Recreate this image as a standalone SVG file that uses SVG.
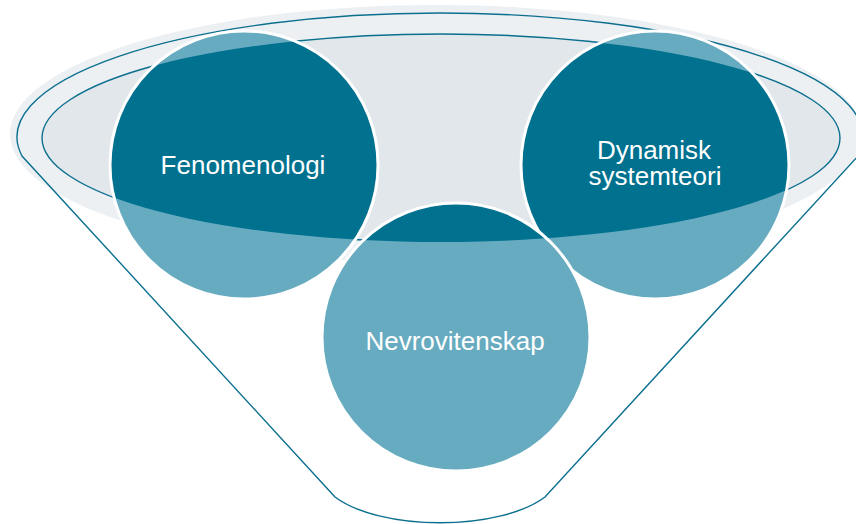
<svg xmlns="http://www.w3.org/2000/svg" width="856" height="524" viewBox="0 0 856 524">
<style>
.lbl{font-family:"Liberation Sans",Arial,sans-serif;font-size:26px;fill:#FFFFFF;text-anchor:middle}
.light{fill:#67ABC0}
.dark{fill:#00718F}
.edge{fill:none;stroke:#FFFFFF;stroke-width:3}
.line{fill:none;stroke:#0B6F8E;stroke-width:1.4}
</style>
<defs>
<clipPath id="inner"><ellipse cx="441" cy="138" rx="399" ry="104"/></clipPath>
</defs>
<g id="funnel">
<ellipse cx="436" cy="134" rx="426" ry="129" fill="#ECF0F3"/>
<path class="line" d="M335,497 L22,156 A423,124 0 1 1 858,156 L545,497 A120,50 0 0 1 335,497"/>
<ellipse cx="441" cy="138" rx="399" ry="104" fill="#E2E7EB" stroke="#0B6F8E" stroke-width="1.4"/>
</g>
<g id="connectors"></g>
<g id="fenomenologi">
<circle class="light" cx="244" cy="165" r="134"/>
<circle class="dark" cx="244" cy="165" r="134" clip-path="url(#inner)"/>
<circle class="edge" cx="244" cy="165" r="134"/>
<text class="lbl" x="243" y="174">Fenomenologi</text>
</g>
<g id="dynamisk">
<circle class="light" cx="655" cy="165" r="134"/>
<circle class="dark" cx="655" cy="165" r="134" clip-path="url(#inner)"/>
<circle class="edge" cx="655" cy="165" r="134"/>
<text class="lbl" x="654" y="159">Dynamisk</text>
<text class="lbl" x="655" y="185">systemteori</text>
</g>
<g id="nevrovitenskap">
<circle class="light" cx="456" cy="337" r="134"/>
<circle class="dark" cx="456" cy="337" r="134" clip-path="url(#inner)"/>
<circle class="edge" cx="456" cy="337" r="134"/>
<text class="lbl" x="455" y="350">Nevrovitenskap</text>
</g>
</svg>
